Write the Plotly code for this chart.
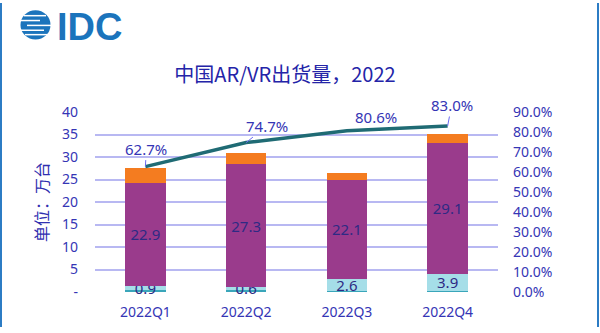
import plotly.graph_objects as go

quarters = ["2022Q1", "2022Q2", "2022Q3", "2022Q4"]
seg_teal = [0.5, 0.5, 0.3, 0.2]
seg_light = [0.9, 0.6, 2.6, 3.9]
seg_purple = [22.9, 27.3, 22.1, 29.1]
seg_orange = [3.2, 2.4, 1.4, 1.9]
share = [0.627, 0.747, 0.806, 0.830]
share_labels = ["62.7%", "74.7%", "80.6%", "83.0%"]
left_tickvals = [0, 5, 10, 15, 20, 25, 30, 35, 40]
left_ticktext = ["-", "5", "10", "15", "20", "25", "30", "35", "40"]

LABEL = "#3535B5"
BARTXT = "#2E2A84"
FONT = "Noto Sans, Noto Sans CJK SC, sans-serif"
CJK = "Noto Sans CJK SC, sans-serif"

W, H = 600, 333
L, R, T, B = 95, 102, 112, 36
pw, ph = W - L - R, H - T - B


def px(x):
    return (x - L) / pw


def py(y):
    return (H - B - y) / ph


fig = go.Figure()
fig.add_bar(x=quarters, y=seg_teal, marker_color="#3AA6BA", name="a")
fig.add_bar(x=quarters, y=seg_light, marker_color="#A5DEE8", name="b",
            text=[f"{v:.1f}" for v in seg_light], textposition="inside",
            insidetextanchor="middle", textfont=dict(color=BARTXT, size=15, family=FONT))
fig.add_bar(x=quarters, y=seg_purple, marker_color="#9A3B8C", name="c",
            text=[f"{v:.1f}" for v in seg_purple], textposition="inside",
            insidetextanchor="middle", textfont=dict(color=BARTXT, size=15, family=FONT))
fig.add_bar(x=quarters, y=seg_orange, marker_color="#F47C20", name="d")
fig.add_scatter(x=quarters, y=share, yaxis="y2", mode="lines",
                line=dict(color="#1F6B74", width=3.5), name="share")

for b in fig.data[:4]:
    b.marker.line.width = 0
    b.cliponaxis = False

# line data labels
offsets = [(1, -18, True), (21, -17, True), (29, -14, False), (4, -21, True)]
for q, v, lab, (ax, ay, arrow) in zip(quarters, share, share_labels, offsets):
    if arrow:
        fig.add_annotation(x=q, y=v, xref="x", yref="y2", text=lab, showarrow=True,
                           arrowhead=0, arrowwidth=1, arrowcolor="#6A6AF0", ax=ax, ay=ay,
                           font=dict(color=LABEL, size=15, family=FONT))
    else:
        fig.add_annotation(x=q, y=v, xref="x", yref="y2", text=lab, showarrow=False,
                           xshift=ax, yshift=-ay, font=dict(color=LABEL, size=15, family=FONT))

# IDC logo
fig.add_annotation(x=px(55), y=py(25), xref="paper", yref="paper", text="<b>IDC</b>",
                   showarrow=False, xanchor="left", yanchor="middle",
                   font=dict(color="#1B74BC", size=38, family="Liberation Sans, Arial, sans-serif"))

# globe
cx, cy, r = 35.5, 22.5, 15
fig.add_shape(type="circle", xref="paper", yref="paper",
              x0=px(cx - r), x1=px(cx + r), y0=py(cy + r), y1=py(cy - r),
              fillcolor="#1B74BC", line=dict(width=0))
for yy, x0, x1 in [(13, 24, 46), (18, 18, 40), (23, 27, 53), (28, 18, 44), (32.5, 25, 48)]:
    fig.add_shape(type="line", xref="paper", yref="paper",
                  x0=px(x0), x1=px(x1), y0=py(yy), y1=py(yy),
                  line=dict(color="white", width=1.5))
# frame sides
for xx in [1, 598]:
    fig.add_shape(type="line", xref="paper", yref="paper",
                  x0=px(xx), x1=px(xx), y0=py(0), y1=py(H),
                  line=dict(color="#2C7CC4", width=2))

fig.update_layout(
    width=W, height=H, margin=dict(l=L, r=R, t=T, b=B),
    barmode="stack", bargap=0.6, showlegend=False,
    paper_bgcolor="white", plot_bgcolor="white",
    title=dict(text="中国AR/VR出货量，2022", x=285 / 600, xanchor="center", y=1 - 75 / 333,
               yanchor="middle", xref="container", yref="container",
               font=dict(color="#2424A8", size=20, family=CJK)),
    uniformtext=dict(minsize=15, mode="show"),
    xaxis=dict(showgrid=False, showline=False, ticks="", tickfont=dict(color=LABEL, size=14, family=FONT),
               ticklabelstandoff=10),
    yaxis=dict(range=[0, 40], tickvals=left_tickvals, ticktext=left_ticktext,
               showgrid=True, gridcolor="#B8B8F2", gridwidth=1.5, zeroline=False,
               tickfont=dict(color=LABEL, size=14, family=FONT), ticklabelstandoff=16,
               title=dict(text="单位：万台", font=dict(color="#3030B0", size=16, family=CJK), standoff=9)),
    yaxis2=dict(range=[0, 0.9], dtick=0.1, tickformat=".1%", overlaying="y", side="right",
                showgrid=False, zeroline=False, tickfont=dict(color=LABEL, size=14, family=FONT),
                ticklabelstandoff=14),
)

fig.write_html("out.html")
